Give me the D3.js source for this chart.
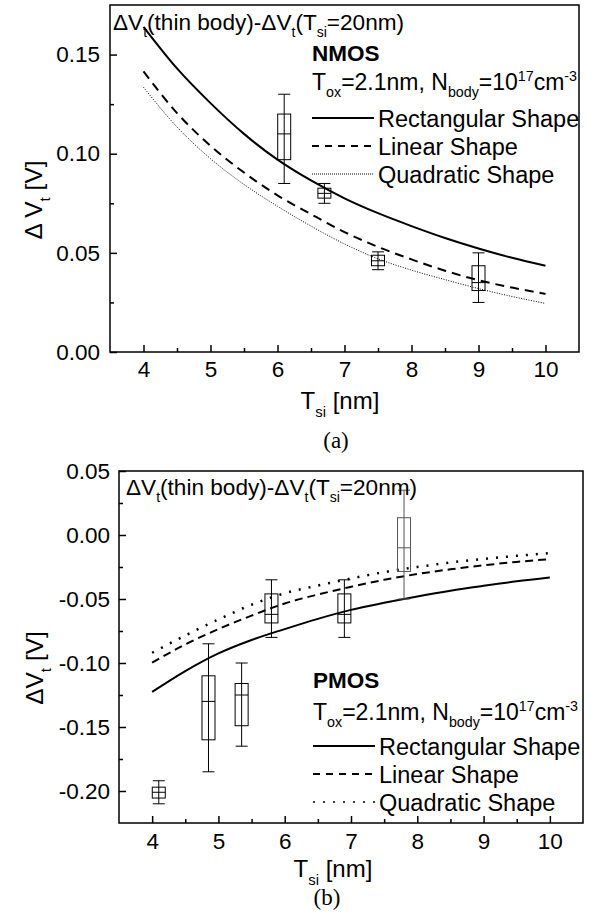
<!DOCTYPE html>
<html>
<head>
<meta charset="utf-8">
<script src="https://cdn.jsdelivr.net/npm/d3@7"></script>
<style>
  body { margin: 0; background: #fff; }
  text { font-family: "Liberation Sans", Arial, sans-serif; fill: #000; }
</style>
</head>
<body>
<div id="chart"></div>
<script>
// ---- data ----
const xTicks = [4, 5, 6, 7, 8, 9, 10];
const fitX = [4, 4.5, 5, 5.5, 6, 6.5, 7, 7.5, 8, 8.5, 9, 9.5, 10];

// (a) NMOS
const nmosRect   = [0.164, 0.143, 0.1255, 0.110, 0.097, 0.0865, 0.0775, 0.070, 0.0635, 0.0575, 0.0522, 0.0475, 0.0435];
const nmosLinear = [0.1415, 0.1205, 0.104, 0.0905, 0.079, 0.0695, 0.0605, 0.053, 0.0467, 0.041, 0.0362, 0.0325, 0.0293];
const nmosQuad   = [0.1335, 0.1135, 0.0975, 0.0845, 0.0735, 0.0635, 0.0545, 0.047, 0.0413, 0.0365, 0.032, 0.028, 0.0245];
const nmosBoxX = [6.1, 6.7, 7.5, 9.0];
const nmosLow  = [0.085, 0.075, 0.0415, 0.025];
const nmosQ1   = [0.097, 0.0776, 0.0435, 0.031];
const nmosMed  = [0.110, 0.080, 0.046, 0.035];
const nmosQ3   = [0.120, 0.0826, 0.0488, 0.0435];
const nmosHigh = [0.130, 0.085, 0.0505, 0.050];
const nmosYTicks = [0, 0.05, 0.10, 0.15];

// (b) PMOS
const pmosRect   = [-0.1226, -0.1063, -0.0925, -0.082, -0.0735, -0.0655, -0.0585, -0.053, -0.048, -0.0435, -0.0397, -0.0362, -0.0332];
const pmosLinear = [-0.0998, -0.0855, -0.0735, -0.063, -0.0535, -0.0465, -0.0405, -0.035, -0.0305, -0.0268, -0.0237, -0.021, -0.0189];
const pmosQuad   = [-0.092, -0.0785, -0.066, -0.0545, -0.0455, -0.0395, -0.034, -0.029, -0.025, -0.0215, -0.0187, -0.0163, -0.0142];
const pmosBoxX = [4.1, 4.85, 5.35, 5.8, 6.9, 7.8];
const pmosLow  = [-0.210, -0.185, -0.165, -0.080, -0.080, -0.050];
const pmosQ1   = [-0.2055, -0.160, -0.149, -0.0687, -0.0687, -0.0285];
const pmosMed  = [-0.201, -0.130, -0.125, -0.062, -0.062, -0.010];
const pmosQ3   = [-0.197, -0.110, -0.116, -0.046, -0.046, 0.0135];
const pmosHigh = [-0.192, -0.085, -0.100, -0.035, -0.035, 0.035];
const pmosYTicks = [0.05, 0, -0.05, -0.10, -0.15, -0.20];

const legendLabels = ["Rectangular Shape", "Linear Shape", "Quadratic Shape"];

const W = 591, H = 918;
const svg = d3.select("#chart").append("svg").attr("width", W).attr("height", H);

// plain hyphen for negatives, like the original
const yFmt = d => d3.format(".2f")(d).replace("−", "-");

// text with sub/superscripts: parts = [[string, ""|"sub"|"sup"], ...]
function richText(sel, x, y, parts, size) {
  const t = sel.append("text").attr("x", x).attr("y", y).style("font-size", size + "px");
  let shift = 0;
  parts.forEach(([s, k]) => {
    const target = k === "sub" ? size * 0.32 : k === "sup" ? -size * 0.4 : 0;
    t.append("tspan")
     .attr("dy", target - shift)
     .style("font-size", (k ? size * 0.62 : size) + "px")
     .text(s);
    shift = target;
  });
  return t;
}

function panel(cfg) {
  const g = svg.append("g");
  const x = d3.scaleLinear().domain([3.5, 10.5]).range([cfg.left, cfg.right]);
  const y = d3.scaleLinear().domain(cfg.yDomain).range([cfg.bottom, cfg.top]);

  // axes, ticks point inward
  const xAxis = g.append("g").attr("transform", `translate(0,${cfg.bottom})`)
    .call(d3.axisBottom(x).tickValues(xTicks).tickSizeInner(-7).tickSizeOuter(0).tickPadding(cfg.xPad).tickFormat(d3.format("d")))
  xAxis.append("g")
    .call(d3.axisBottom(x).tickValues(xTicks.map(d => d + 0.5).filter(d => d < 10.5)).tickSizeInner(-4).tickSizeOuter(0).tickFormat(""));
  const yAxis = g.append("g").attr("transform", `translate(${cfg.left},0)`)
    .call(d3.axisLeft(y).tickValues(cfg.yTicks).tickSizeInner(-7).tickSizeOuter(0).tickPadding(cfg.yPad).tickFormat(yFmt));
  yAxis.append("g")
    .call(d3.axisLeft(y).tickValues(cfg.yTicks.map(d => d + 0.025).filter(d => d < cfg.yDomain[1])).tickSizeInner(-4).tickSizeOuter(0).tickFormat(""));
  g.selectAll(".domain").remove();
  g.selectAll(".tick line").attr("stroke", "#000").attr("stroke-width", 1.5);
  g.selectAll(".tick text").style("font-size", "22.5px").style("font-family", '"Liberation Sans", Arial, sans-serif').attr("fill", "#000");

  g.append("rect")
    .attr("x", cfg.left).attr("y", cfg.top)
    .attr("width", cfg.right - cfg.left).attr("height", cfg.bottom - cfg.top)
    .attr("fill", "none").attr("stroke", "#000").attr("stroke-width", 1.5);

  // model curves
  const line = d3.line().x(d => x(d[0])).y(d => y(d[1])).curve(d3.curveMonotoneX);
  cfg.curves.forEach(c => {
    g.append("path")
      .datum(fitX.map((v, i) => [v, c.values[i]]))
      .attr("d", line)
      .attr("fill", "none").attr("stroke", "#000")
      .attr("stroke-width", c.width)
      .attr("stroke-dasharray", c.dash);
  });

  // measured box plots
  const b = cfg.boxes;
  b.x.forEach((xv, i) => {
    const cx = x(xv), bw = 13, cw = 12;
    const bg = g.append("g").attr("stroke", b.color ? b.color[i] : "#000").attr("stroke-width", 1).attr("fill", "none");
    bg.append("line").attr("x1", cx).attr("x2", cx).attr("y1", y(b.high[i])).attr("y2", y(b.low[i]));
    bg.append("line").attr("x1", cx - cw / 2).attr("x2", cx + cw / 2).attr("y1", y(b.high[i])).attr("y2", y(b.high[i]));
    bg.append("line").attr("x1", cx - cw / 2).attr("x2", cx + cw / 2).attr("y1", y(b.low[i])).attr("y2", y(b.low[i]));
    bg.append("rect").attr("x", cx - bw / 2).attr("width", bw)
      .attr("y", y(b.q3[i])).attr("height", y(b.q1[i]) - y(b.q3[i]));
    bg.append("line").attr("x1", cx - bw / 2).attr("x2", cx + bw / 2).attr("y1", y(b.med[i])).attr("y2", y(b.med[i]));
  });

  // annotations
  richText(g, cfg.left + cfg.noteDx, cfg.noteY,
    [["ΔV", ""], ["t", "sub"], ["(thin body)-ΔV", ""], ["t", "sub"], ["(T", ""], ["si", "sub"], ["=20nm)", ""]], 22.6);
  g.append("text").attr("x", cfg.legX).attr("y", cfg.titleY)
    .style("font-size", "22.5px").style("font-weight", "bold").text(cfg.title);
  richText(g, cfg.legX, cfg.condY,
    [["T", ""], ["ox", "sub"], ["=2.1nm, N", ""], ["body", "sub"], ["=10", ""], ["17", "sup"], ["cm", ""], ["-3", "sup"]], 23);
  legendLabels.forEach((lab, i) => {
    const ly = cfg.legY + i * cfg.legStep;
    const c = cfg.curves[i];
    g.append("line").attr("x1", cfg.legX).attr("x2", cfg.legX + 62).attr("y1", ly).attr("y2", ly)
      .attr("stroke", "#000").attr("stroke-width", c.legWidth || c.width).attr("stroke-dasharray", c.legDash || c.dash);
    g.append("text").attr("x", cfg.legX + 66).attr("y", ly + 8.5).style("font-size", "23.5px").text(lab);
  });

  // axis titles
  richText(g, cfg.xTitleX, cfg.xTitleY, [["T", ""], ["si", "sub"], [" [nm]", ""]], 24)
    .attr("text-anchor", "middle");
  richText(g, cfg.yTitleX, cfg.yTitleY, cfg.yTitle, 24.5)
    .attr("text-anchor", "middle")
    .attr("transform", `rotate(-90,${cfg.yTitleX},${cfg.yTitleY})`);
  g.append("text").attr("x", cfg.capX).attr("y", cfg.capY).attr("text-anchor", "middle")
    .style("font-family", '"Liberation Serif", "Times New Roman", serif').style("font-size", "23px")
    .text(cfg.caption);
}

panel({
  left: 110, right: 579, top: 5, bottom: 352,
  yDomain: [0, 0.175], yTicks: nmosYTicks, xPad: 9, yPad: 10,
  curves: [
    { values: nmosRect, width: 2, dash: null },
    { values: nmosLinear, width: 2, dash: "9,6", legDash: "7,6" },
    { values: nmosQuad, width: 1, dash: "1,1.5", legDash: "1,1" }
  ],
  boxes: { x: nmosBoxX, low: nmosLow, q1: nmosQ1, med: nmosMed, q3: nmosQ3, high: nmosHigh },
  noteDx: 3, noteY: 30,
  title: "NMOS", legX: 312, titleY: 61, condY: 90, legY: 118, legStep: 28,
  xTitleX: 340, xTitleY: 409,
  yTitle: [["Δ V", ""], ["t", "sub"], [" [V]", ""]], yTitleX: 42, yTitleY: 200,
  caption: "(a)", capX: 336, capY: 448
});

panel({
  left: 119, right: 583, top: 471, bottom: 823,
  yDomain: [-0.225, 0.05], yTicks: pmosYTicks, xPad: 10, yPad: 9,
  curves: [
    { values: pmosRect, width: 2, dash: null },
    { values: pmosLinear, width: 2, dash: "8,5", legDash: "7,6" },
    { values: pmosQuad, width: 2.5, dash: "2,8", legWidth: 1.5, legDash: "2,8" }
  ],
  boxes: { x: pmosBoxX, low: pmosLow, q1: pmosQ1, med: pmosMed, q3: pmosQ3, high: pmosHigh,
           color: ["#000", "#000", "#000", "#000", "#000", "#555"] },
  noteDx: 7, noteY: 495,
  title: "PMOS", legX: 313, titleY: 688, condY: 720, legY: 746, legStep: 28,
  xTitleX: 333, xTitleY: 877,
  yTitle: [["ΔV", ""], ["t", "sub"], [" [V]", ""]], yTitleX: 43, yTitleY: 668,
  caption: "(b)", capX: 327, capY: 905
});
</script>
</body>
</html>
